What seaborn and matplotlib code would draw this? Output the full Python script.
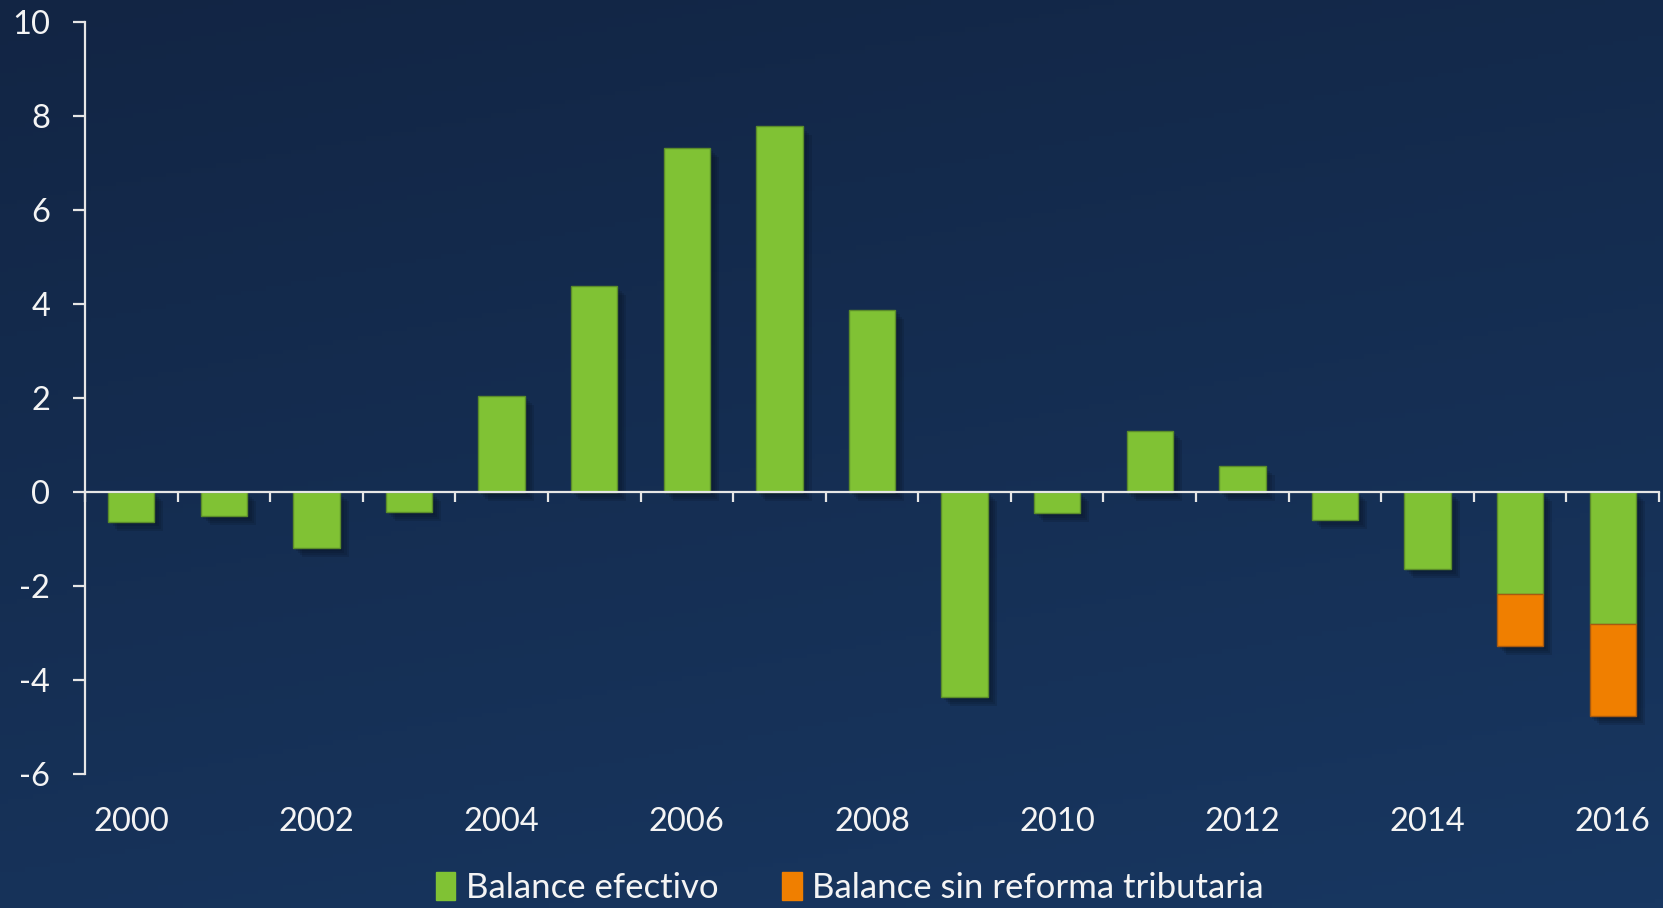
import numpy as np
import pandas as pd
import matplotlib
matplotlib.use('Agg')
import matplotlib.pyplot as plt
import matplotlib.patheffects as pe
import seaborn as sns

years = [str(y) for y in range(2000, 2017)]
balance_efectivo = [-0.63, -0.52, -1.20, -0.43, 2.04, 4.38, 7.31, 7.79, 3.88,
                    -4.36, -0.45, 1.29, 0.56, -0.59, -1.64, -2.17, -2.81]
# total balance without the tax reform (only shown for the last two years)
sin_reforma_years = ['2015', '2016']
sin_reforma_total = [-3.28, -4.77]
year_labels = [str(y) for y in range(2000, 2017, 2)]

GREEN = '#80c234'
ORANGE = '#f07f00'
TEXT = '#f4f4f4'

sns.set_style('white')
plt.rcParams['font.family'] = ['Lato', 'DejaVu Sans']
plt.rcParams['axes.unicode_minus'] = False

fig = plt.figure(figsize=(16.63, 9.08), dpi=100)

# gradient background
bg = fig.add_axes([0, 0, 1, 1], zorder=-10)
yy, xx = np.mgrid[0:1:200j, 0:1:200j]
grad = 0.75 * yy + 0.25 * xx
cmap = matplotlib.colors.LinearSegmentedColormap.from_list('bg', ['#122544', '#183761'])
bg.imshow(grad, cmap=cmap, aspect='auto', extent=[0, 1, 0, 1], origin='upper')
bg.axis('off')

ax = fig.add_axes([0.0511, 0.1476, 0.9465, 0.8282])
ax.patch.set_alpha(0)

df = pd.DataFrame({'year': years, 'efectivo': balance_efectivo})
shadow = [pe.SimplePatchShadow(offset=(o, -o), shadow_rgbFace='#081426', alpha=0.2)
          for o in (2, 3.5, 5, 6.5)] + [pe.Normal()]

sns.barplot(data=df, x='year', y='efectivo', color=GREEN, width=0.5,
            saturation=1, edgecolor='#5b8c2a', linewidth=1, ax=ax, zorder=3)
for p in ax.patches:
    p.set_path_effects(shadow)

idx = [years.index(y) for y in sin_reforma_years]
base = [balance_efectivo[i] for i in idx]
extra = [t - b for t, b in zip(sin_reforma_total, base)]
orange = ax.bar(idx, extra, bottom=base, width=0.5, color=ORANGE,
                edgecolor='#a85a10', linewidth=1, zorder=3)
for p in orange:
    p.set_path_effects(shadow)

ax.set_xlim(-0.5, 16.5)
ax.set_ylim(-6, 10)
ax.set_yticks(range(-6, 11, 2))
ax.set_xticks(np.arange(-0.5, 17, 1))
ax.set_xticklabels([])
ax.set_xlabel('')
ax.set_ylabel('')

for s in ['top', 'right']:
    ax.spines[s].set_visible(False)
ax.spines['bottom'].set_position(('data', 0))
for s in ['left', 'bottom']:
    ax.spines[s].set_color('#e6e6e6')
    ax.spines[s].set_linewidth(1.6)
    ax.spines[s].set_zorder(4)
ax.tick_params(axis='y', direction='out', length=9, width=1.6, color='#e6e6e6',
               labelcolor=TEXT, labelsize=23.5, pad=16, left=True)
ax.tick_params(axis='x', direction='out', length=7, width=1.6, color='#e6e6e6',
               bottom=True)

for i, lab in enumerate(years):
    if lab in year_labels:
        ax.text(i, -0.064, lab, transform=ax.get_xaxis_transform(), ha='center',
                va='center', fontsize=23.5, color=TEXT)

handles = [plt.Rectangle((0, 0), 1, 1, color=GREEN),
           plt.Rectangle((0, 0), 1, 1, color=ORANGE)]
fig.legend(handles, ['Balance efectivo', 'Balance sin reforma tributaria'],
           loc='center', bbox_to_anchor=(0.511, 0.022), ncol=2, frameon=False,
           fontsize=25, labelcolor=TEXT, handlelength=0.55, handleheight=0.85,
           handletextpad=0.3, columnspacing=1.85)

fig.savefig('out.png', dpi=100)
